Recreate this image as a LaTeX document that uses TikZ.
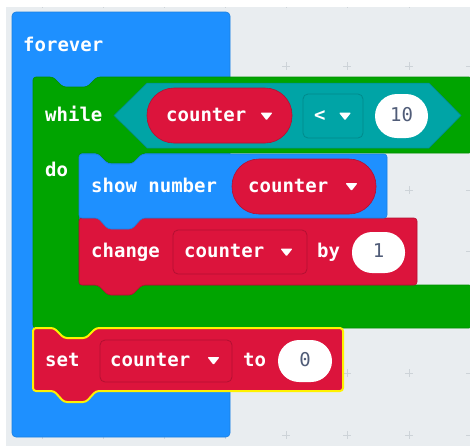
\documentclass[tikz,border=0pt]{standalone}
\usepackage{fontspec}
\setmonofont{DejaVu Sans Mono}
\definecolor{bgGray}{HTML}{E9EDF0}
\definecolor{gridC}{HTML}{CDD3D8}
\definecolor{mcBlue}{HTML}{1E90FF}
\definecolor{mcBlueD}{HTML}{1A7FE0}
\definecolor{mcGreen}{HTML}{00A400}
\definecolor{mcGreenD}{HTML}{008E00}
\definecolor{mcTeal}{HTML}{00A4A6}
\definecolor{mcTealD}{HTML}{008A8C}
\definecolor{mcRed}{HTML}{DC143C}
\definecolor{mcRedD}{HTML}{B31032}
\definecolor{numC}{HTML}{505C78}
\definecolor{hiYellow}{HTML}{FFF200}
\tikzset{
  txt/.style={font=\ttfamily\bfseries\fontsize{19}{19}\selectfont, text=white, inner sep=0pt},
  numtxt/.style={font=\ttfamily\fontsize{19}{19}\selectfont, inner sep=0pt, text=numC},
  plusmark/.style={draw=gridC, line width=1pt},
  blueblk/.style={fill=mcBlue, draw=mcBlueD, line width=0.6pt, rounded corners=3pt},
  greenblk/.style={fill=mcGreen, draw=mcGreenD, line width=0.6pt, rounded corners=3pt},
  redblk/.style={fill=mcRed, draw=mcRedD, line width=0.6pt, rounded corners=3pt},
  selblk/.style={fill=mcRed, draw=hiYellow, line width=2pt, rounded corners=3pt},
  hexblk/.style={fill=mcTeal, draw=mcTealD, line width=0.5pt},
  pillred/.style={fill=mcRed, draw=mcRedD, line width=0.6pt},
  pillwhite/.style={fill=white},
  ddred/.style={fill=mcRed, draw=mcRedD, line width=0.8pt, rounded corners=5pt},
  ddteal/.style={fill=mcTeal, draw=mcTealD, line width=0.8pt, rounded corners=5pt},
  tri/.style={fill=white, rounded corners=0.8pt}
}
\newcommand\ddtri[2]{\fill[tri, shift={(#1,#2)}] (-6,-3.8) -- (6,-3.8) -- (0,3.8) -- cycle;}
\begin{document}
\begin{tikzpicture}[x=1pt,y=-1pt]
\useasboundingbox (0,0) rectangle (470,445);
\fill[white] (0,0) rectangle (470,445);
\fill[bgGray] (6,7) rectangle (471,446);
% grid pluses
\begin{scope}
\clip (6,7) rectangle (471,446);
\foreach \gx in {42,103,164,225,286,347,409,470}{
  \foreach \gy in {4,66,128,190,251,312,373,435}{
    \draw[plusmark] (\gx-4,\gy) -- (\gx+4,\gy) (\gx,\gy-4) -- (\gx,\gy+4);
  }
}
\end{scope}
% forever block
\draw[blueblk, rounded corners=4pt] (12,12) rectangle (230,437);
\node[txt, anchor=base west] (tForever) at (23,51) {forever};
% while block (C shape)
\draw[greenblk] (33,77) -- (53,77) -- (63,87) -- (87,87) -- (97,77) -- (472,77)
  -- (472,153) -- (143,153) -- (133,163) -- (108,163) -- (98,153) -- (79,153)
  -- (79,285) -- (472,285) -- (472,328) -- (97,328) -- (87,338) -- (63,338) -- (53,328)
  -- (33,328) -- cycle;
\node[txt, anchor=base west] (tWhile) at (45,121) {while};
\node[txt, anchor=base west] (tDo) at (45,176) {do};
% condition hexagon
\draw[hexblk] (114,115.5) -- (147,83) -- (429,83) -- (461,115.5) -- (429,148) -- (147,148) -- cycle;
\draw[pillred, rounded corners=27pt] (147,88) rectangle (292,143);
\node[txt, anchor=base west] (tCnt1) at (166,121) {counter};
\ddtri{266.5}{116.5}
\draw[ddteal] (303,94) rectangle (363,138);
\node[txt, anchor=base west] (tLt) at (314,121) {<};
\ddtri{345}{116.5}
\fill[pillwhite, rounded corners=22pt] (375,94) rectangle (428,138);
\node[numtxt, anchor=base] (tTen) at (401.5,121) {10};
% change block
\draw[redblk] (79,218) -- (417,218) -- (417,285) -- (142,285) -- (132,295) -- (108,295) -- (98,285) -- (79,285) -- cycle;
\node[txt, anchor=base west] (tChange) at (91,257) {change};
\draw[ddred] (173,230) rectangle (307,274);
\node[txt, anchor=base west] (tCnt3) at (184,257) {counter};
\ddtri{286.5}{252.5}
\node[txt, anchor=base west] (tBy) at (317,257) {by};
\fill[pillwhite, rounded corners=20pt] (352,232) rectangle (405,273);
\node[numtxt, anchor=base] (tOne) at (378.5,257) {1};
% show number block
\draw[blueblk] (79,154) -- (98,154) -- (108,164) -- (132,164) -- (142,154) -- (387,154)
  -- (387,218) -- (142,218) -- (132,229) -- (108,229) -- (98,218) -- (79,218) -- cycle;
\node[txt, anchor=base west] (tShow) at (91,192) {show number};
\draw[pillred, rounded corners=27pt] (232,159) rectangle (376,214);
\node[txt, anchor=base west] (tCnt2) at (248,192) {counter};
\ddtri{351.5}{187}
% set block (selected)
\draw[selblk] (33,328) -- (54,328) -- (64,338) -- (86,338) -- (96,328) -- (343,328)
  -- (343,391) -- (96,391) -- (86,402) -- (64,402) -- (54,391) -- (33,391) -- cycle;
\node[txt, anchor=base west] (tSet) at (45,366.5) {set};
\draw[ddred] (100,340) rectangle (232,382);
\node[txt, anchor=base west] (tCnt4) at (110,366.5) {counter};
\ddtri{213.5}{361}
\node[txt, anchor=base west] (tTo) at (243,366.5) {to};
\fill[pillwhite, rounded corners=21pt] (278,340) rectangle (332,382);
\node[numtxt, anchor=base] (tZero) at (305,366.5) {0};
\end{tikzpicture}
\end{document}
